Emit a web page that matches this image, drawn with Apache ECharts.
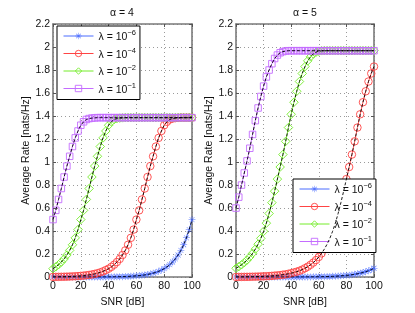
<!DOCTYPE html>
<html><head><meta charset="utf-8">
<script src="https://cdn.jsdelivr.net/npm/echarts@6/dist/echarts.min.js"></script>
<style>html,body{margin:0;padding:0;background:#fff}#c{width:415px;height:313px}</style>
</head><body><div id="c"></div>
<script>
const snr = [0,2,4,6,8,10,12,14,16,18,20,22,24,26,28,30,32,34,36,38,40,42,44,46,48,50,52,54,56,58,60,62,64,66,68,70,72,74,76,78,80,82,84,86,88,90,92,94,96,98,100];
const xTicks = [0,20,40,60,80,100];
const yTicks = [0,0.2,0.4,0.6,0.8,1,1.2,1.4,1.6,1.8,2,2.2];
const titles = ['α = 4','α = 5'];
const lambdaNames = ['l6','l4','l2','l1'];
const lambdaExp = {l6:'−6', l4:'−4', l2:'−2', l1:'−1'};

// alpha = 4
const a4_l6 = [0.00003,0.00004,0.00005,0.00006,0.00007,0.00008,0.0001,0.00012,0.00015,0.00018,0.00023,0.00028,0.00034,0.00041,0.0005,0.0006,0.0007,0.0009,0.0011,0.0013,0.0016,0.0019,0.0023,0.0028,0.0034,0.0041,0.005,0.0061,0.0073,0.0089,0.011,0.013,0.016,0.019,0.023,0.028,0.034,0.041,0.050,0.061,0.073,0.089,0.108,0.131,0.158,0.192,0.232,0.281,0.341,0.413,0.50];
const a4_l4 = [0.0016,0.0019,0.0023,0.0028,0.0034,0.0041,0.005,0.0061,0.0073,0.0089,0.011,0.013,0.016,0.019,0.023,0.028,0.034,0.041,0.050,0.061,0.073,0.089,0.108,0.131,0.158,0.192,0.232,0.281,0.341,0.413,0.50,0.58,0.675,0.77,0.87,0.965,1.05,1.135,1.21,1.27,1.32,1.35,1.37,1.378,1.382,1.384,1.386,1.386,1.386,1.386,1.386];
const a4_l2 = [0.073,0.089,0.108,0.131,0.158,0.192,0.232,0.281,0.341,0.413,0.50,0.58,0.675,0.77,0.87,0.965,1.05,1.135,1.21,1.27,1.32,1.35,1.37,1.378,1.382,1.384,1.386,1.386,1.386,1.386,1.386,1.386,1.386,1.386,1.386,1.386,1.386,1.386,1.386,1.386,1.386,1.386,1.386,1.386,1.386,1.386,1.386,1.386,1.386,1.386,1.386];
const a4_l1 = [0.50,0.58,0.675,0.77,0.87,0.965,1.05,1.135,1.21,1.27,1.32,1.35,1.37,1.378,1.382,1.384,1.386,1.386,1.386,1.386,1.386,1.386,1.386,1.386,1.386,1.386,1.386,1.386,1.386,1.386,1.386,1.386,1.386,1.386,1.386,1.386,1.386,1.386,1.386,1.386,1.386,1.386,1.386,1.386,1.386,1.386,1.386,1.386,1.386,1.386,1.386];

// alpha = 5
const a5_l6 = [0.00002,0.000025,0.00003,0.000035,0.00004,0.00005,0.00006,0.00007,0.00008,0.00009,0.00011,0.00013,0.00015,0.00018,0.00021,0.00025,0.0003,0.00035,0.00041,0.00049,0.00057,0.00068,0.0008,0.00094,0.0011,0.0013,0.0015,0.0017,0.0021,0.0024,0.0029,0.0034,0.004,0.0047,0.0055,0.0065,0.0077,0.009,0.011,0.013,0.015,0.017,0.021,0.024,0.029,0.034,0.040,0.047,0.055,0.065,0.077];
const a5_l4 = [0.0013,0.0015,0.0017,0.0021,0.0024,0.0029,0.0034,0.004,0.0047,0.0055,0.0065,0.0077,0.009,0.011,0.013,0.015,0.017,0.021,0.024,0.029,0.034,0.040,0.047,0.055,0.065,0.077,0.0905,0.107,0.126,0.148,0.175,0.206,0.243,0.286,0.337,0.398,0.469,0.553,0.647,0.747,0.852,0.957,1.065,1.18,1.30,1.415,1.52,1.615,1.70,1.77,1.83];
const a5_l2 = [0.077,0.0905,0.107,0.126,0.148,0.175,0.206,0.243,0.286,0.337,0.398,0.469,0.553,0.647,0.747,0.852,0.957,1.065,1.18,1.30,1.415,1.52,1.615,1.70,1.77,1.83,1.88,1.915,1.94,1.955,1.963,1.967,1.968,1.968,1.968,1.968,1.968,1.968,1.968,1.968,1.968,1.968,1.968,1.968,1.968,1.968,1.968,1.968,1.968,1.968,1.968];
const a5_l1 = [0.60,0.695,0.80,0.905,1.01,1.12,1.24,1.36,1.47,1.57,1.66,1.74,1.80,1.855,1.90,1.93,1.95,1.96,1.965,1.968,1.968,1.968,1.968,1.968,1.968,1.968,1.968,1.968,1.968,1.968,1.968,1.968,1.968,1.968,1.968,1.968,1.968,1.968,1.968,1.968,1.968,1.968,1.968,1.968,1.968,1.968,1.968,1.968,1.968,1.968,1.968];

const FONT = 'Liberation Sans, Arial, Helvetica, sans-serif';
const colors = {l6:'#4a6cff', l4:'#ff4444', l2:'#74ec2a', l1:'#c46cff'};
const ASTER = 'path://M-0.35,-5 L0.35,-5 L0.35,5 L-0.35,5 Z M-5,-0.35 L5,-0.35 L5,0.35 L-5,0.35 Z M-3.8,-3.3 L-3.3,-3.8 L3.8,3.3 L3.3,3.8 Z M3.3,-3.8 L3.8,-3.3 L-3.3,3.8 L-3.8,3.3 Z';
const symbols = {l6:ASTER, l4:'circle', l2:'diamond', l1:'rect'};
const symSize = {l6:7, l4:7.5, l2:8.5, l1:6.5};

const sets = [
  {l6:a4_l6, l4:a4_l4, l2:a4_l2, l1:a4_l1},
  {l6:a5_l6, l4:a5_l4, l2:a5_l2, l1:a5_l1}
];
const grids = [
  {left:53, top:24, width:139, height:254},
  {left:236, top:24, width:138, height:254}
];

function markStyle(n) {
  return n === 'l6' ? {color:colors[n], borderWidth:0}
                    : {color:'rgba(255,255,255,0)', borderColor:colors[n], borderWidth:0.9};
}

const axisLineStyle = {color:'#7a7a7a', width:1.6};
const xAxis = [], yAxis = [], series = [];
grids.forEach((g, gi) => {
  xAxis.push({type:'value', gridIndex:gi, min:0, max:100, interval:20, position:'bottom',
    name:'SNR [dB]', nameLocation:'middle', nameGap:14,
    nameTextStyle:{fontFamily:FONT, fontSize:10.5, color:'#111'},
    axisLine:{show:true, onZero:false, lineStyle:axisLineStyle},
    axisTick:{show:true, inside:true, length:3, lineStyle:{color:'#555'}},
    axisLabel:{fontFamily:FONT, fontSize:10.5, color:'#111', margin:4},
    splitLine:{show:true, lineStyle:{type:[1,3], color:'#9a9a9a', width:1}}});
  xAxis.push({type:'value', gridIndex:gi, min:0, max:100, interval:20, position:'top',
    axisLine:{show:true, onZero:false, lineStyle:axisLineStyle},
    axisTick:{show:true, inside:true, length:3, lineStyle:{color:'#555'}},
    axisLabel:{show:false}, splitLine:{show:false}});
  yAxis.push({type:'value', gridIndex:gi, min:0, max:2.2, interval:0.2, position:'left',
    name:'Average Rate [nats/Hz]', nameLocation:'middle', nameGap:13,
    nameTextStyle:{fontFamily:FONT, fontSize:10.5, color:'#111'},
    axisLine:{show:true, onZero:false, lineStyle:axisLineStyle},
    axisTick:{show:true, inside:true, length:3, lineStyle:{color:'#555'}},
    axisLabel:{fontFamily:FONT, fontSize:10.5, color:'#111', margin:3,
      formatter: v => String(+v.toFixed(1))},
    splitLine:{show:true, lineStyle:{type:[1,3], color:'#9a9a9a', width:1}}});
  yAxis.push({type:'value', gridIndex:gi, min:0, max:2.2, interval:0.2, position:'right',
    axisLine:{show:true, onZero:false, lineStyle:axisLineStyle},
    axisTick:{show:true, inside:true, length:3, lineStyle:{color:'#555'}},
    axisLabel:{show:false}, splitLine:{show:false}});
  lambdaNames.forEach(n => {
    const d = snr.map((s, i) => [s, sets[gi][n][i]]);
    series.push({type:'line', name:n, xAxisIndex:gi*2, yAxisIndex:gi*2, data:d,
      symbol:symbols[n], symbolSize:symSize[n], showAllSymbol:true,
      lineStyle:{color:colors[n], width:0.9},
      itemStyle: markStyle(n),
      emphasis:{disabled:true},
      animation:false, z:2});
    series.push({type:'line', name:'ana_'+n+gi, xAxisIndex:gi*2, yAxisIndex:gi*2, data:d,
      symbol:'none', lineStyle:{color:'#000', width:0.9, type:[3,2]}, animation:false, z:4, silent:true});
  });
});

const legendData = lambdaNames.map(n => ({
  name:n,
  itemStyle: markStyle(n),
  lineStyle: {color:colors[n], width:1}
}));

const legendBase = {
  orient:'vertical', data:legendData, itemWidth:30, itemHeight:8, itemGap:3.5,
  backgroundColor:'#fff', borderColor:'#000', borderWidth:1, borderRadius:0,
  padding:[3,4,4,6], selectedMode:false,
  formatter: n => '{a|λ = 10}{s|' + lambdaExp[n] + '}',
  textStyle:{rich:{
    a:{fontFamily:FONT, fontSize:10.5, color:'#111', lineHeight:14, verticalAlign:'bottom'},
    s:{fontFamily:FONT, fontSize:7.5, color:'#111', lineHeight:14, verticalAlign:'top'}
  }}
};

const option = {
  backgroundColor:'#fff',
  animation:false,
  grid: grids,
  xAxis, yAxis, series,
  legend:[Object.assign({left:57, top:26}, legendBase), Object.assign({left:293, top:179}, legendBase)],
  graphic:[
    {type:'text', x:122, y:13, style:{text:titles[0], font:'10.5px '+FONT, fill:'#111', textAlign:'center', textVerticalAlign:'middle'}},
    {type:'text', x:305, y:13, style:{text:titles[1], font:'10.5px '+FONT, fill:'#111', textAlign:'center', textVerticalAlign:'middle'}}
  ]
};
const chart = echarts.init(document.getElementById('c'), null, {renderer:'canvas'});
chart.setOption(option);
</script></body></html>
